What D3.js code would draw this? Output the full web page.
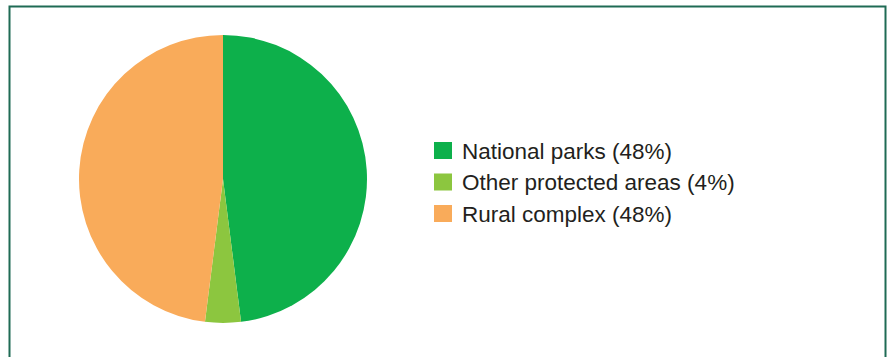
<!DOCTYPE html>
<meta charset="utf-8">
<style>
body { margin: 0; background: #fff; }
text { font-family: "Liberation Sans", Arial, sans-serif; }
</style>
<body>
<div id="chart"></div>
<script src="https://d3js.org/d3.v7.min.js"></script>
<script>
var categories = ["National parks", "Other protected areas", "Rural complex"];
var shares = [48, 4, 48];
var colors = ["#0db04b", "#8cc63f", "#f9ab5a"];

var width = 889, height = 357;

var svg = d3.select("#chart").append("svg")
    .attr("width", width)
    .attr("height", height);

// frame
svg.append("rect")
    .attr("x", 9.5).attr("y", 6.5)
    .attr("width", 876).attr("height", 360)
    .attr("fill", "none")
    .attr("stroke", "#1f6b55")
    .attr("stroke-width", 2);

var radius = 144;
var pie = d3.pie().sort(null).value(function(d) { return d; });
var arc = d3.arc().innerRadius(0).outerRadius(radius);

var g = svg.append("g").attr("transform", "translate(223,179)");
g.selectAll("path")
    .data(pie(shares))
  .enter().append("path")
    .attr("d", arc)
    .attr("fill", function(d, i) { return colors[i]; });

var legend = svg.append("g").attr("transform", "translate(434,142)");
var item = legend.selectAll("g")
    .data(categories)
  .enter().append("g")
    .attr("transform", function(d, i) { return "translate(0," + (i * 31.5) + ")"; });

item.append("rect")
    .attr("width", 18).attr("height", 17)
    .attr("fill", function(d, i) { return colors[i]; });

item.append("text")
    .attr("x", 28).attr("y", 16.5)
    .attr("font-size", 22.5)
    .attr("fill", "#231f20")
    .text(function(d, i) { return d + " (" + shares[i] + "%)"; });
</script>
</body>
